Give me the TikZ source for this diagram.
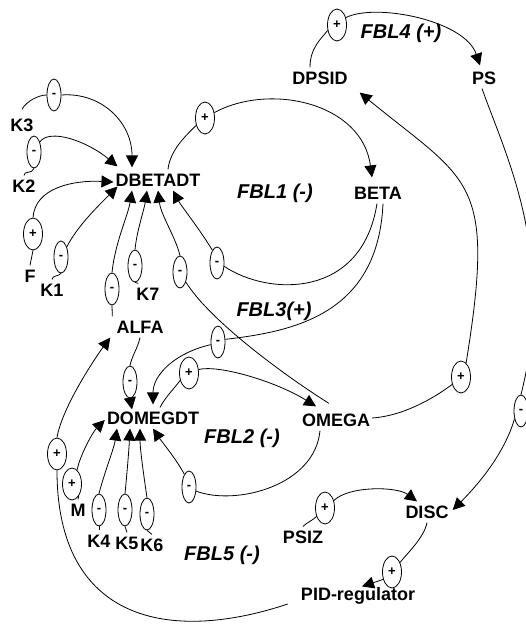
\documentclass[tikz,border=0pt]{standalone}
\usepackage{fontspec}
\setmainfont{Liberation Sans}
\usetikzlibrary{arrows.meta,shapes.geometric}
\begin{document}
\begin{tikzpicture}[x=1pt,y=-1pt,
  var/.style={font=\fontsize{18}{19}\selectfont\bfseries, inner xsep=2pt, inner ysep=4pt, text height=12.8pt, text depth=0pt},
  loopname/.style={font=\fontsize{20}{22}\selectfont\bfseries\itshape, inner sep=0pt},
  pol/.style={draw, ellipse, minimum height=32pt, inner sep=0pt, line width=0.8pt, font=\fontsize{13}{14}\selectfont\bfseries},
  plusmark/.style={pol, minimum width=19pt},
  minusmark/.style={pol, minimum width=14pt},
  link/.style={line width=0.8pt},
  arr/.style={link, -{Triangle[length=12pt,width=12pt]}},
]
\useasboundingbox (0,0) rectangle (526,629);

% variables
\node[var] (DPSID) at (320,78) {DPSID};
\node[var] (PS) at (484,78) {PS};
\node[var] (DBETADT) at (158,180) {DBETADT};
\node[var] (BETA) at (378,193) {BETA};
\node[var] (K3) at (22,125) {K3};
\node[var] (K2) at (24,186) {K2};
\node[var] (F) at (30,276) {F};
\node[var] (K1) at (52,290) {K1};
\node[var] (K7) at (148,294) {K7};
\node[var] (ALFA) at (140,327) {ALFA};
\node[var] (DOMEGDT) at (153,418) {DOMEGDT};
\node[var] (OMEGA) at (336,420) {OMEGA};
\node[var] (M) at (78,510) {M};
\node[var] (K4) at (99,541) {K4};
\node[var] (K5) at (127,543) {K5};
\node[var] (K6) at (152,545) {K6};
\node[var] (PSIZ) at (303,537) {PSIZ};
\node[var] (DISC) at (427,512) {DISC};
\node[var] (PID) at (358,594) {PID-regulator};

% loop names
\node[loopname] (L4) at (401,33) {FBL4 (+)};
\node[loopname] (L1) at (275,193) {FBL1 (-)};
\node[loopname] (L3) at (274,311) {FBL3(+)};
\node[loopname] (L2) at (242,438) {FBL2 (-)};
\node[loopname] (L5) at (222,555) {FBL5 (-)};

% polarity marks
\node[minusmark] (pK3) at (54,95) {-};
\node[minusmark] (pK2) at (34,152) {-};
\node[plusmark] (pF) at (33,234) {+};
\node[minusmark] (pK1) at (61,257) {-};
\node[plusmark] (pB1) at (205,118) {+};
\node[minusmark] (pAb) at (112,289) {-};
\node[minusmark] (pK7) at (135,266) {-};
\node[minusmark] (pOb) at (180,272) {-};
\node[minusmark] (pBb) at (217,263) {-};
\node[minusmark] (pBo) at (218,342) {-};
\node[plusmark] (pDo) at (189,373) {+};
\node[minusmark] (pAo) at (130,382) {-};
\node[minusmark] (pOo) at (189,487) {-};
\node[plusmark] (pDP) at (337,25) {+};
\node[plusmark] (pOd) at (461,377) {+};
\node[minusmark] (pPS) at (521,411) {-};
\node[plusmark] (pPZ) at (325,508) {+};
\node[plusmark] (pDI) at (392,572) {+};
\node[plusmark] (pPI) at (57,454) {+};
\node[plusmark] (pM) at (72,484) {+};
\node[minusmark] (pK4) at (99,510) {-};
\node[minusmark] (pK5) at (125,510) {-};
\node[minusmark] (pK6) at (147,514) {-};

% K3 -> DBETADT
\draw[link] ([yshift=5pt]K3.north) .. controls +(4,-8) and +(-8,0) .. (pK3.west);
\draw[arr] (pK3.east) .. controls +(40,-3) and +(0,-45) .. ([xshift=-26pt,yshift=2pt]DBETADT.north);
% K2 -> DBETADT
\draw[link] (K2.north) .. controls +(0,-5) and +(-2,6) .. (pK2.south);
\draw[arr] (pK2.60) .. controls +(10,-14) and +(-30,-25) .. ([xshift=4pt,yshift=3pt]DBETADT.north west);
% F -> DBETADT
\draw[link] (F.north) -- (pF.south);
\draw[arr] (pF.north) .. controls +(2,-30) and +(-40,-2) .. ([yshift=-2pt]DBETADT.west);
% K1 -> DBETADT
\draw[link] (K1.north) .. controls +(0,-4) and +(-2,3) .. (pK1.south);
\draw[arr] (pK1.60) .. controls +(10,-20) and +(-20,20) .. ([xshift=4pt,yshift=4pt]DBETADT.south west);
% ALFA -> DBETADT
\draw[link] ([xshift=-2pt]ALFA.north west) .. controls +(0,-5) and +(0,5) .. (pAb.south);
\draw[arr] (pAb.north) .. controls +(3,-30) and +(-4,25) .. ([xshift=-26pt]DBETADT.south);
% K7 -> DBETADT
\draw[link] ([xshift=4pt]K7.north west) -- (pK7.south);
\draw[arr] (pK7.north) .. controls +(2,-20) and +(-3,20) .. ([xshift=-11pt]DBETADT.south);
% OMEGA -> DBETADT
\draw[link] ([xshift=-7pt,yshift=6pt]OMEGA.north) .. controls +(-40,-25) and +(25,40) .. (pOb.-60);
\draw[arr] (pOb.north) .. controls +(-5,-20) and +(3,25) .. (DBETADT.south);
% BETA -> DBETADT  (FBL1)
\draw[link] ([xshift=-1pt]BETA.south) .. controls +(-15,95) and +(45,30) .. (pBb.-25);
\draw[arr] (pBb.110) .. controls +(-12,-20) and +(8,15) .. ([xshift=15pt]DBETADT.south);
% BETA -> DOMEGDT  (FBL3)
\draw[link] ([xshift=5pt]BETA.south) .. controls +(-5,110) and +(70,-8) .. (pBo.20);
\draw[arr] (pBo.200) .. controls +(-35,8) and +(0,-30) .. ([yshift=3pt]DOMEGDT.north);
% DBETADT -> BETA  (FBL1)
\draw[link] ([xshift=10pt]DBETADT.north) .. controls +(2,-20) and +(-8,8) .. (pB1.220);
\draw[arr] (pB1.30) .. controls +(55,-30) and +(-10,-75) .. ([xshift=-6pt,yshift=5pt]BETA.north);
% DPSID -> PS  (FBL4)
\draw[link] ([xshift=-10pt]DPSID.north) .. controls +(0,-20) and +(-6,8) .. (pDP.210);
\draw[arr] (pDP.40) .. controls +(30,-15) and +(-15,-45) .. ([xshift=-4pt,yshift=2pt]PS.north);
% OMEGA -> DPSID
\draw[link] ([yshift=2pt]OMEGA.east) .. controls +(30,-2) and +(-20,15) .. (pOd.220);
\draw[arr] (pOd.70) .. controls +(30,-185) and +(110,90) .. ([xshift=10pt,yshift=-4pt]DPSID.south east);
% PS -> DISC
\draw[link] ([xshift=-2pt]PS.south) .. controls +(25,70) and +(35,-140) .. (pPS.north);
\draw[arr] (pPS.230) .. controls +(-10,35) and +(25,-25) .. ([xshift=2pt,yshift=2pt]DISC.east);
% PSIZ -> DISC
\draw[link] (PSIZ.north) .. controls +(4,-4) and +(-4,4) .. (pPZ.225);
\draw[arr] (pPZ.40) .. controls +(15,-15) and +(-20,-15) .. ([xshift=-10pt]DISC.north);
% DISC -> PID-regulator
\draw[link] (DISC.south) .. controls +(-3,15) and +(8,-10) .. (pDI.50);
\draw[arr] (pDI.220) -- ([xshift=4pt,yshift=-3pt]PID.north);
% PID-regulator -> ALFA  (FBL5)
\draw[link] ([xshift=-11pt,yshift=-10pt]PID.west) .. controls +(-120,40) and +(0,150) .. (pPI.south);
\draw[arr] (pPI.north) .. controls +(5,-30) and +(-15,20) .. ([xshift=-4pt]ALFA.south west);
% M -> DOMEGDT
\draw[link] (M.north) -- (pM.-60);
\draw[arr] (pM.70) .. controls +(3,-15) and +(-12,12) .. ([yshift=-2pt]DOMEGDT.west);
% K4, K5, K6 -> DOMEGDT
\draw[link] (K4.north) -- (pK4.south);
\draw[arr] (pK4.north) .. controls +(5,-20) and +(-3,20) .. ([xshift=-36pt]DOMEGDT.south);
\draw[link] (K5.north) -- (pK5.south);
\draw[arr] (pK5.north) .. controls +(2,-20) and +(-1,20) .. ([xshift=-23pt]DOMEGDT.south);
\draw[link] (K6.north) -- (pK6.south);
\draw[arr] (pK6.north) .. controls +(-3,-20) and +(0,20) .. ([xshift=-13pt]DOMEGDT.south);
% ALFA -> DOMEGDT
\draw[link] (ALFA.south) .. controls +(-2,10) and +(2,-10) .. (pAo.north);
\draw[arr] (pAo.south) -- ([xshift=-21pt,yshift=-2pt]DOMEGDT.north);
% DOMEGDT -> OMEGA  (FBL2)
\draw[link] ([xshift=7pt]DOMEGDT.north) .. controls +(5,-10) and +(-5,7) .. (pDo.220);
\draw[arr] (pDo.20) .. controls +(20,-5) and +(-40,-25) .. ([xshift=-20pt,yshift=3pt]OMEGA.north);
% OMEGA -> DOMEGDT  (FBL2)
\draw[link] ([xshift=-16pt]OMEGA.south) .. controls +(-5,55) and +(40,15) .. (pOo.-30);
\draw[arr] (pOo.110) .. controls +(-8,-15) and +(8,12) .. (DOMEGDT.south);
\end{tikzpicture}
\end{document}
